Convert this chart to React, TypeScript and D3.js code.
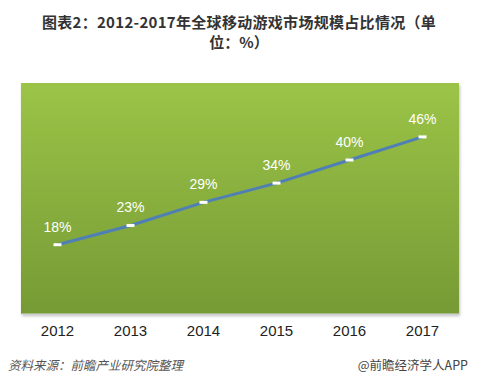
import * as d3 from 'd3';

const years = ['2012', '2013', '2014', '2015', '2016', '2017'];
const shares = [18, 23, 29, 34, 40, 46];

const W = 478;
const H = 384;
const plot = { left: 21, top: 83, right: 459, bottom: 314 };

export default function App() {
  const x = d3.scaleBand<string>().domain(years).range([plot.left, plot.right]);
  const y = d3.scaleLinear().domain([0, 60]).range([plot.bottom, plot.top]);

  const line = d3
    .line<number>()
    .x((_, i) => (x(years[i]) ?? 0) + x.bandwidth() / 2)
    .y((d) => y(d));

  const font = '"Liberation Sans", Arial, sans-serif';
  const cjk = '"Noto Sans CJK SC", "Liberation Sans", sans-serif';

  return (
    <svg width={W} height={H} style={{ position: 'absolute', left: 0, top: 0, background: '#fff' }}>
      <defs>
        <linearGradient id="bg" x1="0" y1="0" x2="0" y2="1">
          <stop offset="0%" stopColor="#9bc447" />
          <stop offset="100%" stopColor="#769a35" />
        </linearGradient>
        <filter id="shadow" x="-5%" y="-5%" width="110%" height="115%">
          <feDropShadow dx="1" dy="2" stdDeviation="1.5" floodColor="#000" floodOpacity="0.25" />
        </filter>
      </defs>

      {/* title */}
      <text x={W / 2} y={28} textAnchor="middle" fontFamily={cjk} fontWeight="bold" fontSize={15} fill="#333" letterSpacing={0.3}>
        图表2：2012-2017年全球移动游戏市场规模占比情况（单
      </text>
      <text x={W / 2} y={48} textAnchor="middle" fontFamily={cjk} fontWeight="bold" fontSize={15} fill="#333">
        位：%）
      </text>

      {/* plot area */}
      <rect
        x={plot.left}
        y={plot.top}
        width={plot.right - plot.left}
        height={plot.bottom - plot.top}
        fill="url(#bg)"
        filter="url(#shadow)"
      />
      <line x1={plot.left} x2={plot.right} y1={plot.bottom} y2={plot.bottom} stroke="#d8d8d8" strokeWidth={1} />

      <path d={line(shares) ?? ''} fill="none" stroke="#4f7fb5" strokeWidth={3} />

      {shares.map((v, i) => {
        const cx = (x(years[i]) ?? 0) + x.bandwidth() / 2;
        return (
          <g key={years[i]}>
            <rect x={cx - 4} y={y(v) - 1.5} width={8} height={3} fill="#fff" />
            <text x={cx} y={y(v) - 13} textAnchor="middle" fontFamily={font} fontSize={14} fill="#fff">
              {v}%
            </text>
          </g>
        );
      })}

      {years.map((yr) => (
        <text
          key={yr}
          x={(x(yr) ?? 0) + x.bandwidth() / 2}
          y={336}
          textAnchor="middle"
          fontFamily={font}
          fontSize={15}
          fill="#222"
        >
          {yr}
        </text>
      ))}

      {/* footer */}
      <text x={8} y={370} fontFamily={cjk} fontStyle="italic" fontSize={12.5} fill="#555">
        资料来源：前瞻产业研究院整理
      </text>
      <text x={468} y={370} textAnchor="end" fontFamily={cjk} fontSize={12.5} fill="#444">
        @前瞻经济学人APP
      </text>
    </svg>
  );
}
